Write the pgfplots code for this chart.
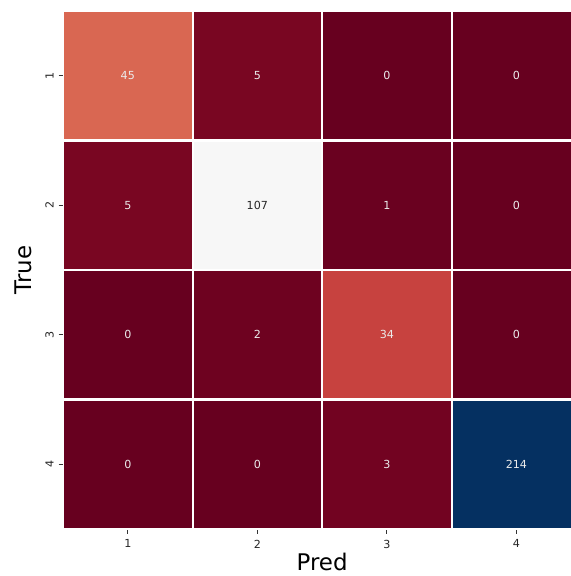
\documentclass[border=0pt]{standalone}
\usepackage{fontspec}
\setmainfont{DejaVu Sans}
\usepackage{pgfplots}
\pgfplotsset{compat=1.18}
\usetikzlibrary{calc}
\pgfplotsset{
  colormap={RdBu}{rgb255=(103,0,31) rgb255=(178,24,43) rgb255=(214,96,77) rgb255=(244,165,130) rgb255=(253,219,199) rgb255=(247,247,247) rgb255=(209,229,240) rgb255=(146,197,222) rgb255=(67,147,195) rgb255=(33,102,172) rgb255=(5,48,97)}
}
\begin{document}
\begin{tikzpicture}
\begin{axis}[
  scale only axis,
  width=373pt, height=373pt,
  xmin=0.5, xmax=4.5, ymin=0.5, ymax=4.5,
  y dir=reverse,
  colormap name=RdBu,
  point meta min=0, point meta max=214,
  xtick={1,2,3,4}, ytick={1,2,3,4},
  axis line style={draw=none},
  tick align=outside,
  major tick length=3.2pt,
  tick style={black!80, line width=0.6pt},
  xtick pos=bottom, ytick pos=left,
  /pgf/number format/assume math mode=true,
  ticklabel style={font=\fontsize{8}{9.5}\selectfont, text=black!85},
  xticklabel style={yshift=-1pt},
  yticklabel style={rotate=90, anchor=south, xshift=0pt},
  xlabel={Pred}, ylabel={True},
  label style={font=\fontsize{16.5}{19}\selectfont},
  xlabel style={yshift=3pt},
  ylabel style={yshift=3pt},
  enlargelimits=false,
]
\addplot[matrix plot*, mesh/cols=4, point meta=explicit, draw=white, line width=1.5pt] table[meta=c] {
x y c
1 1 45
2 1 5
3 1 0
4 1 0
1 2 5
2 2 107
3 2 1
4 2 0
1 3 0
2 3 2
3 3 34
4 3 0
1 4 0
2 4 0
3 4 3
4 4 214
};
\addplot[only marks, mark=none, point meta=explicit symbolic,
  nodes near coords, nodes near coords align=center,
  every node near coord/.style={font=\fontsize{8}{9.5}\selectfont, text=white!92!black, anchor=center}]
  table[meta=c] {
x y c
1 1 45
2 1 5
3 1 0
4 1 0
1 2 5
3 2 1
4 2 0
1 3 0
2 3 2
3 3 34
4 3 0
1 4 0
2 4 0
3 4 3
4 4 214
};
\addplot[only marks, mark=none, point meta=explicit symbolic,
  nodes near coords, nodes near coords align=center,
  every node near coord/.style={font=\fontsize{8}{9.5}\selectfont, text=black!85, anchor=center}]
  table[meta=c] {
x y c
2 2 107
};
\end{axis}
\pgfresetboundingbox
\path[use as bounding box] ($(current axis.south west)+(-45.4pt,-33.8pt)$) rectangle ($(current axis.north east)+(-7.9pt,7.9pt)$);
\end{tikzpicture}
\end{document}
